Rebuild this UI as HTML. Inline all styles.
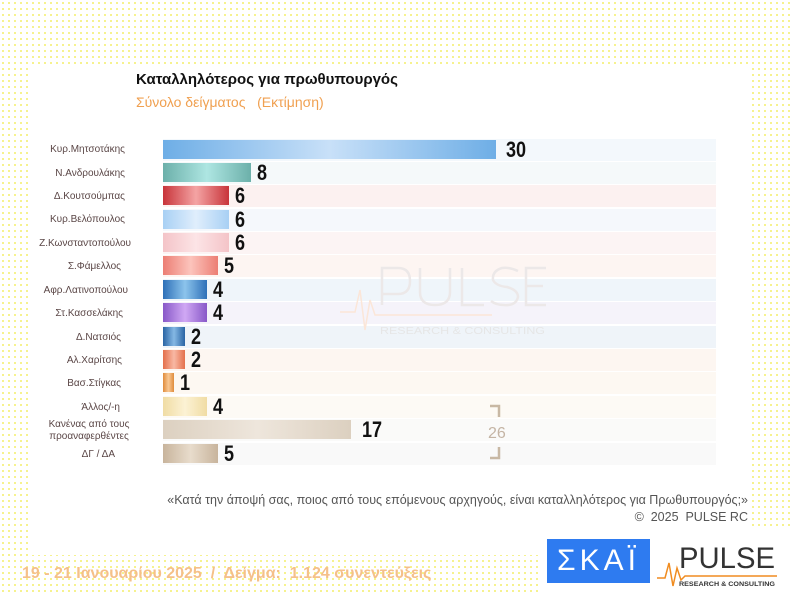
<!DOCTYPE html>
<html><head><meta charset="utf-8"><style>
body{margin:0;width:790px;height:593px;position:relative;overflow:hidden;font-family:"Liberation Sans","DejaVu Sans",sans-serif;
background-color:#fff;background-image:radial-gradient(circle,#f3ee70 0.8px,transparent 1.1px);background-size:6px 6px;}
.panel{position:absolute;left:30px;top:66px;width:722px;height:489px;background:#fff}
.panel2{position:absolute;left:540px;top:530px;width:250px;height:63px;background:#fff}
.t1{position:absolute;left:136px;top:71px;font-weight:bold;font-size:15px;color:#111}
.t2{position:absolute;left:136px;top:94px;font-size:14px;color:#f0a050}
.band{position:absolute;left:163px;width:553px;height:22px}
.bar{position:absolute;left:163px;height:19px}
.lab{position:absolute;width:150px;left:0;text-align:right;font-size:10px;color:#5a4646;line-height:12px}
.val{position:absolute;font-weight:bold;font-size:22px;color:#111;transform:scaleX(0.82);transform-origin:left;line-height:22px}
.q{position:absolute;right:42px;top:492px;text-align:right;font-size:12.5px;color:#555;line-height:17px}
.foot{position:absolute;left:22px;top:565px;font-size:16px;font-weight:bold;color:#f5c08a}
</style></head><body>
<div class="panel"></div><div class="panel2"></div>
<div class="t1">Καταλληλότερος για πρωθυπουργός</div>
<div class="t2">Σύνολο δείγματος &nbsp;&nbsp;(Εκτίμηση)</div>

<div class="band" style="top:139px;background:#f3f8fc"></div>
<div class="band" style="top:162px;background:#f5f9fa"></div>
<div class="band" style="top:185px;background:#fcf1f0"></div>
<div class="band" style="top:209px;background:#f5f8fc"></div>
<div class="band" style="top:232px;background:#fcf4f4"></div>
<div class="band" style="top:255px;background:#fdf5f2"></div>
<div class="band" style="top:279px;background:#eff5fa"></div>
<div class="band" style="top:302px;background:#f5f3fa"></div>
<div class="band" style="top:326px;background:#eff4f9"></div>
<div class="band" style="top:349px;background:#fdf6f1"></div>
<div class="band" style="top:372px;background:#fdf8f2"></div>
<div class="band" style="top:396px;background:#fdfaf5"></div>
<div class="band" style="top:419px;background:#fafaf9"></div>
<div class="band" style="top:443px;background:#f9f9f9"></div>

<svg style="position:absolute;left:0;top:0" width="790" height="593">
<g fill="none" stroke="#ece8e8" stroke-width="2.5">
<path d="M382 305 V268 H398 Q410 268 410 281 Q410 294 398 294 H382"/>
<path d="M420 268 V292 Q420 305 435 305 Q450 305 450 292 V268"/>
<path d="M462 268 V305 H484"/>
<path d="M518 271 Q510 267 502 268 Q492 271 493 280 Q496 286 507 287 Q518 290 518 297 Q516 306 504 305 Q496 305 491 301"/>
<path d="M546 268 H526 V305 H546 M526 286 H543"/>
</g>
<path d="M340 312 H355 L360 290 L365 330 L370 300 L375 315 H492" fill="none" stroke="#fbe6d8" stroke-width="1.5"/>
<text x="380" y="334" font-size="10" textLength="165" lengthAdjust="spacingAndGlyphs" fill="#e6e6e6">RESEARCH &amp; CONSULTING</text>
<g stroke="#c8b8a4" stroke-width="2.5" fill="none"><path d="M490 406 H499 V417"/><path d="M499 447 V458 H490"/></g>
<text x="488" y="438" font-size="16" fill="#c4b4a4">26</text>
</svg>

<div class="bar" style="top:140px;width:333px;background:linear-gradient(90deg,#6eaee6,#c8e0f8 50%,#6eaee6)"></div>
<div class="bar" style="top:163px;width:88px;background:linear-gradient(90deg,#6cb0aa,#aee6e2 50%,#6cb0aa)"></div>
<div class="bar" style="top:186px;width:66px;background:linear-gradient(90deg,#c8343a,#f4a4a4 50%,#c8343a)"></div>
<div class="bar" style="top:210px;width:66px;background:linear-gradient(90deg,#a8d0f4,#e0eefc 50%,#a8d0f4)"></div>
<div class="bar" style="top:233px;width:66px;background:linear-gradient(90deg,#f4c4c8,#fce4e6 50%,#f4c4c8)"></div>
<div class="bar" style="top:256px;width:55px;background:linear-gradient(90deg,#ec7e74,#fcc4bc 50%,#ec7e74)"></div>
<div class="bar" style="top:280px;width:44px;background:linear-gradient(90deg,#2e70b8,#8cc4ec 50%,#2e70b8)"></div>
<div class="bar" style="top:303px;width:44px;background:linear-gradient(90deg,#8858c8,#d0a8f4 50%,#8858c8)"></div>
<div class="bar" style="top:327px;width:22px;background:linear-gradient(90deg,#2a64a4,#84b8e4 50%,#2a64a4)"></div>
<div class="bar" style="top:350px;width:22px;background:linear-gradient(90deg,#e4704c,#f8b8a4 50%,#e4704c)"></div>
<div class="bar" style="top:373px;width:11px;background:linear-gradient(90deg,#e08c3c,#f8c894 50%,#e08c3c)"></div>
<div class="bar" style="top:397px;width:44px;background:linear-gradient(90deg,#f0dca4,#fcf2d4 50%,#f0dca4)"></div>
<div class="bar" style="top:420px;width:188px;background:linear-gradient(90deg,#dcd0c0,#eee6dc 50%,#dcd0c0)"></div>
<div class="bar" style="top:444px;width:55px;background:linear-gradient(90deg,#c8b49c,#e8dccc 50%,#c8b49c)"></div>

<div class="val" style="left:506px;top:139px">30</div>
<div class="val" style="left:257px;top:162px">8</div>
<div class="val" style="left:235px;top:185px">6</div>
<div class="val" style="left:235px;top:209px">6</div>
<div class="val" style="left:235px;top:232px">6</div>
<div class="val" style="left:224px;top:255px">5</div>
<div class="val" style="left:213px;top:279px">4</div>
<div class="val" style="left:213px;top:302px">4</div>
<div class="val" style="left:191px;top:326px">2</div>
<div class="val" style="left:191px;top:349px">2</div>
<div class="val" style="left:180px;top:372px">1</div>
<div class="val" style="left:213px;top:396px">4</div>
<div class="val" style="left:362px;top:419px">17</div>
<div class="val" style="left:224px;top:443px">5</div>

<div class="lab" style="top:144px;left:-25px">Κυρ.Μητσοτάκης</div>
<div class="lab" style="top:168px;left:-25px">Ν.Ανδρουλάκης</div>
<div class="lab" style="top:191px;left:-25px">Δ.Κουτσούμπας</div>
<div class="lab" style="top:214px;left:-25px">Κυρ.Βελόπουλος</div>
<div class="lab" style="top:238px;left:-19px">Ζ.Κωνσταντοπούλου</div>
<div class="lab" style="top:261px;left:-29px">Σ.Φάμελλος</div>
<div class="lab" style="top:285px;left:-22px">Αφρ.Λατινοπούλου</div>
<div class="lab" style="top:308px;left:-27px">Στ.Κασσελάκης</div>
<div class="lab" style="top:332px;left:-29px">Δ.Νατσιός</div>
<div class="lab" style="top:355px;left:-28px">Αλ.Χαρίτσης</div>
<div class="lab" style="top:378px;left:-29px">Βασ.Στίγκας</div>
<div class="lab" style="top:402px;left:-30px">Άλλος/-η</div>
<div class="lab" style="top:419px;text-align:center;width:130px;left:24px">Κανένας από τους<br>προαναφερθέντες</div>
<div class="lab" style="top:449px;left:-35px">ΔΓ / ΔΑ</div>

<div class="q">«Κατά την άποψή σας, ποιος από τους επόμενους αρχηγούς, είναι καταλληλότερος για Πρωθυπουργός;»<br>©&nbsp; 2025&nbsp; PULSE RC</div>
<div class="foot">19 - 21 Ιανουαρίου 2025&nbsp; /&nbsp; Δείγμα:&nbsp; 1.124 συνεντεύξεις</div>

<div style="position:absolute;left:547px;top:539px;width:103px;height:44px;background:#2e7bf0;color:#fff;font-size:30px;line-height:44px;text-align:center;letter-spacing:4px">ΣΚΑΪ</div>
<svg style="position:absolute;left:655px;top:538px" width="125" height="50">
<path d="M2 40 H10 L14 25 L18 48 L22 30 L26 42 L30 38 H122" fill="none" stroke="#f08c20" stroke-width="1.5"/>
<text x="24" y="30" font-size="30" fill="#333" textLength="96" lengthAdjust="spacingAndGlyphs">PULSE</text>
<text x="24" y="48" font-size="6.5" fill="#333" font-weight="bold" textLength="96" lengthAdjust="spacingAndGlyphs">RESEARCH &amp; CONSULTING</text>
</svg>
</body></html>
